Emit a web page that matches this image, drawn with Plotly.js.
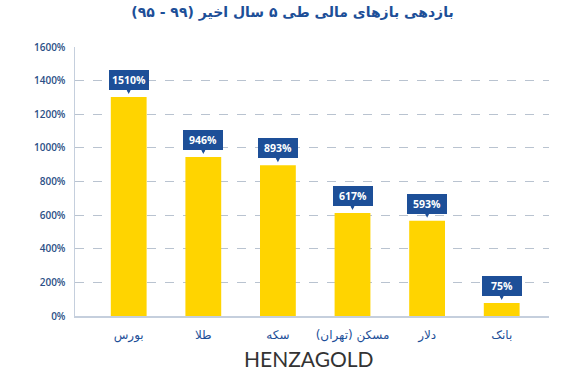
<!DOCTYPE html>
<html><head><meta charset="utf-8">
<script src="https://cdn.plot.ly/plotly-3.0.1.min.js"></script>
<style>html,body{margin:0;padding:0;background:#fff}</style>
</head><body><div id="chart" style="width:585px;height:372px"></div>
<script>
var categories = ["بورس", "طلا", "سکه", "مسکن (تهران)", "دلار", "بانک"];
var barHeights = [1303, 945, 897, 613, 566, 77];
var labelTexts = ["1510%", "946%", "893%", "617%", "593%", "75%"];
var yTickVals = [0, 200, 400, 600, 800, 1000, 1200, 1400, 1600];
var yTickText = ["0%", "200%", "400%", "600%", "800%", "1000%", "1200%", "1400%", "1600%"];
var titleText = "بازدهی بازهای مالی طی ۵ سال اخیر (۹۹ - ۹۵)";
var watermark = "HENZAGOLD";

var blue = "#1d4f98";
var xs = categories.map(function(c, i){ return i; });

var annotations = xs.map(function(x, i){
  return {
    x: x, y: barHeights[i], xref: "x", yref: "y",
    text: "<b>" + labelTexts[i] + "</b>",
    showarrow: true, ax: 0, ay: -17, axref: "pixel", ayref: "pixel",
    arrowhead: 2, arrowsize: 0.8, arrowwidth: 2.2, arrowcolor: blue, standoff: 3,
    bgcolor: blue, bordercolor: blue, borderwidth: 0, borderpad: 3,
    font: {family: "Open Sans, sans-serif", size: 10.5, color: "#ffffff"},
    width: 34
  };
});
annotations.push({
  xref: "paper", yref: "paper", x: 0.5, y: -0.208, yanchor: "bottom", xanchor: "center",
  text: watermark, showarrow: false, xshift: -3, borderpad: 0,
  font: {family: "Lato, sans-serif", size: 21, color: "#333333"}
});

var data = [{
  type: "bar", x: xs, y: barHeights, width: 0.48,
  marker: {color: "#ffd400"}, hoverinfo: "none"
}];

var layout = {
  width: 585, height: 372,
  margin: {l: 75, r: 36, t: 47, b: 56},
  paper_bgcolor: "#ffffff", plot_bgcolor: "#ffffff",
  showlegend: false,
  title: {text: "<b>" + titleText + "</b>", x: 0.5, xanchor: "center", y: 0.967, yanchor: "middle",
    font: {family: "DejaVu Sans, sans-serif", size: 14, color: blue}},
  xaxis: {
    range: [-0.72, 5.634], tickvals: xs, ticktext: categories,
    showgrid: false, zeroline: false, showline: true, linecolor: "#c5cfdd", linewidth: 1.5,
    ticks: "", ticklabelstandoff: 7,
    tickfont: {family: "DejaVu Sans, sans-serif", size: 12, color: blue}
  },
  yaxis: {
    range: [0, 1600], tickvals: yTickVals, ticktext: yTickText,
    showgrid: true, gridcolor: "#b9c3d0", griddash: "dash", gridwidth: 1,
    zeroline: false, showline: true, linecolor: "#c5cfdd", linewidth: 1.5,
    ticks: "", ticklabelstandoff: 6,
    tickfont: {family: "Open Sans, sans-serif", size: 10, color: "#2b4f86", weight: 600}
  },
  annotations: annotations
};
Plotly.newPlot("chart", data, layout, {staticPlot: true, displayModeBar: false});
</script></body></html>
